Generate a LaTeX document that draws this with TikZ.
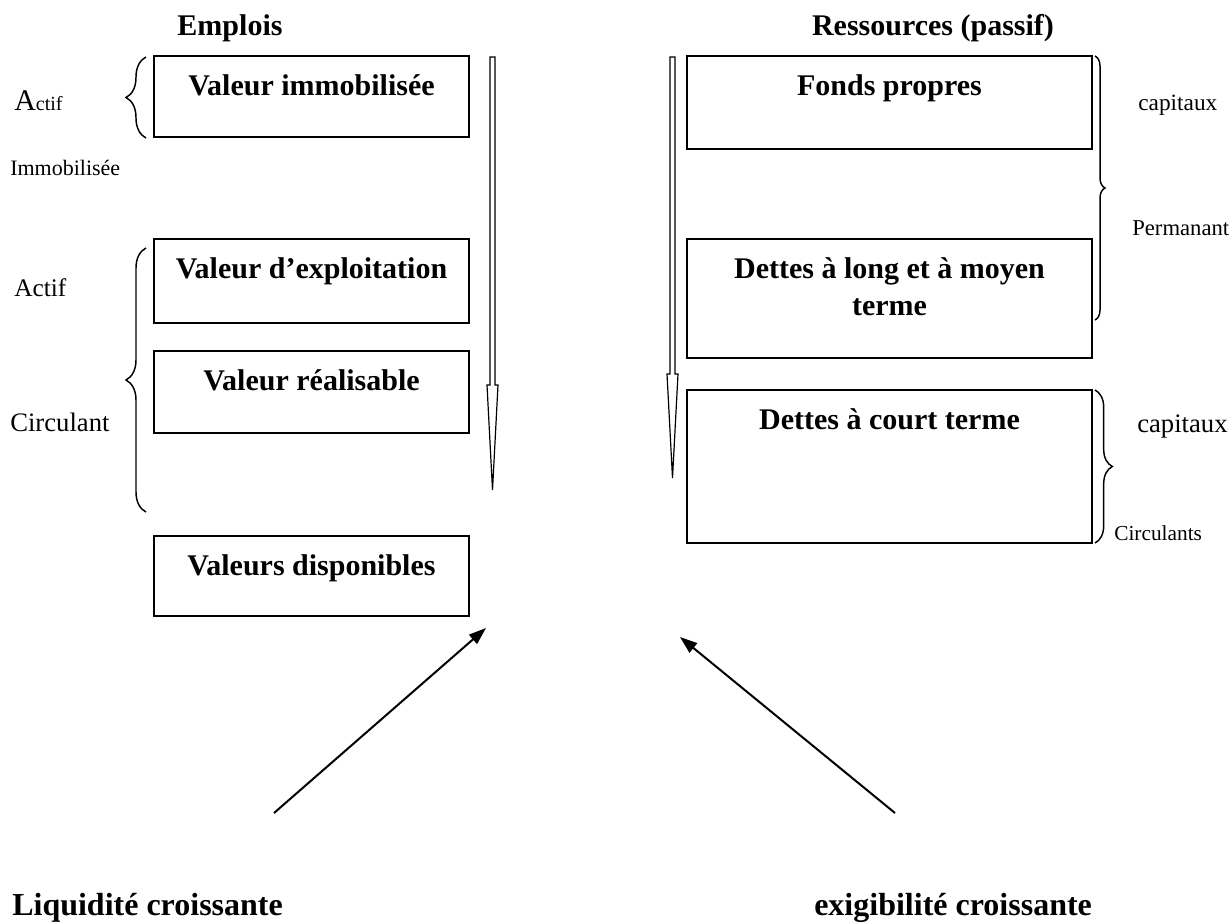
\documentclass[tikz,border=0pt]{standalone}
\usepackage{fontspec}
\setmainfont{Liberation Serif}
\usetikzlibrary{decorations.pathreplacing,fit,arrows.meta}

\tikzset{
  box/.style={draw, line width=1.2pt, inner sep=0pt},
  boxtext/.style={anchor=base, inner sep=0pt, align=center,
    font=\fontsize{22.5}{27.5}\selectfont\bfseries},
  title/.style={anchor=base, inner sep=0pt,
    font=\fontsize{22.5}{27}\selectfont\bfseries},
  side/.style={anchor=base west, inner sep=0pt},
  caption/.style={anchor=base west, inner sep=0pt,
    font=\fontsize{24}{29}\selectfont\bfseries},
  brace/.style={decorate, line width=1.1pt},
  flow/.style={draw, line width=0.9pt, fill=white, line join=miter},
  push/.style={line width=1.5pt, -{Triangle[length=13pt,width=9pt]}},
}

\begin{document}
\begin{tikzpicture}[x=0.75pt, y=-0.75pt]
\useasboundingbox (0,0) rectangle (1230,922);

% column headings
\node[title] (emplois) at (230,35) {Emplois};
\node[title] (ressources) at (933,35) {Ressources (passif)};

% assets (left column)
\coordinate (vi-nw) at (154,56);  \coordinate (vi-se) at (469,137);
\coordinate (ve-nw) at (154,239); \coordinate (ve-se) at (469,323);
\coordinate (vr-nw) at (154,351); \coordinate (vr-se) at (469,433);
\coordinate (vd-nw) at (154,536); \coordinate (vd-se) at (469,616);
\node[box, fit=(vi-nw)(vi-se)] (vi) {};
\node[box, fit=(ve-nw)(ve-se)] (ve) {};
\node[box, fit=(vr-nw)(vr-se)] (vr) {};
\node[box, fit=(vd-nw)(vd-se)] (vd) {};
\node[boxtext] (vi-t) at (311.5,95)  {Valeur immobilisée};
\node[boxtext] (ve-t) at (311.5,278) {Valeur d’exploitation};
\node[boxtext] (vr-t) at (311.5,390) {Valeur réalisable};
\node[boxtext] (vd-t) at (311.5,575) {Valeurs disponibles};

% liabilities (right column)
\coordinate (fp-nw) at (687,56);   \coordinate (fp-se) at (1092,149);
\coordinate (dl-nw) at (687,239);  \coordinate (dl-se) at (1092,358);
\coordinate (dc-nw) at (687,390);  \coordinate (dc-se) at (1092,543);
\node[box, fit=(fp-nw)(fp-se)] (fp) {};
\node[box, fit=(dl-nw)(dl-se)] (dl) {};
\node[box, fit=(dc-nw)(dc-se)] (dc) {};
\node[boxtext] (fp-t) at (889.5,95) {Fonds propres};
\node[boxtext] (dl-t1) at (889.5,278) {Dettes à long et à moyen};
\node[boxtext] (dl-t2) at (889.5,315) {terme};
\node[boxtext] (dc-t) at (889.5,429) {Dettes à court terme};

% slim hollow arrows along each column
\draw[flow] (490,57) -- (495,57) -- (495,385) -- (498,385) -- (492.5,490)
  -- (487,385) -- (490,385) -- cycle;
\draw[flow] (670,57) -- (675,57) -- (675,374) -- (678,374) -- (672.5,478)
  -- (667,374) -- (670,374) -- cycle;

% braces on the asset side
\coordinate (b1-top) at (146,57);  \coordinate (b1-bot) at (146,138);
\coordinate (b2-top) at (146,248); \coordinate (b2-bot) at (146,512);
\draw[brace, decoration={brace, amplitude=15pt}] (b1-bot) -- (b1-top);
\draw[brace, decoration={brace, amplitude=15pt}] (b2-bot) -- (b2-top);

% braces on the liability side
\coordinate (b3-top) at (1095,56);  \coordinate (b3-bot) at (1095,320);
\coordinate (b4-top) at (1095,390); \coordinate (b4-bot) at (1095,543);
\draw[brace, decoration={brace, amplitude=7.5pt}] (b3-top) -- (b3-bot);
\draw[brace, decoration={brace, amplitude=13pt}] (b4-top) -- (b4-bot);

% side labels
\node[side] (actif1) at (14,110)
  {\fontsize{22.5}{27}\selectfont A\fontsize{15}{18}\selectfont ctif};
\node[side, font=\fontsize{16.5}{20}\selectfont] (immo) at (10,175) {Immobilisée};
\node[side, font=\fontsize{19}{23}\selectfont] (actif2) at (14,296) {Actif};
\node[side, font=\fontsize{20}{24}\selectfont] (circ) at (10,431) {Circulant};
\node[side, font=\fontsize{17.5}{21}\selectfont] (cap1) at (1138,110) {capitaux};
\node[side, font=\fontsize{17}{20}\selectfont] (perm) at (1132,235) {Permanant};
\node[side, font=\fontsize{20}{24}\selectfont] (cap2) at (1137,432) {capitaux};
\node[side, font=\fontsize{16}{19}\selectfont] (circs) at (1114,540) {Circulants};

% bottom captions and their arrows
\node[caption] (liq) at (12,915) {Liquidité croissante};
\node[caption] (exi) at (814,915) {exigibilité croissante};
\coordinate (liq-from) at (274,813); \coordinate (liq-to) at (486,628);
\coordinate (exi-from) at (895,813); \coordinate (exi-to) at (680,637);
\draw[push] (liq-from) -- (liq-to);
\draw[push] (exi-from) -- (exi-to);
\end{tikzpicture}
\end{document}
